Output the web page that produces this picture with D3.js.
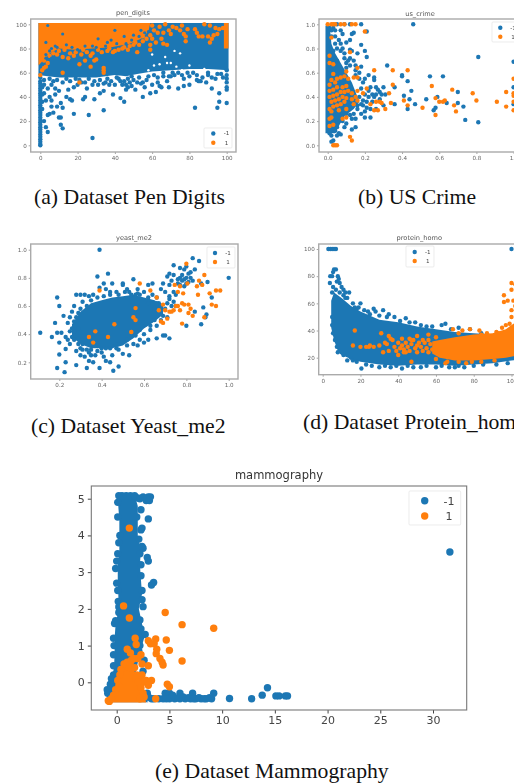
<!DOCTYPE html>
<html><head><meta charset="utf-8">
<script src="https://cdn.jsdelivr.net/npm/d3@7/dist/d3.min.js"></script>
<style>html,body{margin:0;padding:0;background:#fff;overflow:hidden}svg{display:block}</style>
</head><body><svg id="c" width="514" height="783"></svg>
<script>
// Solid overplotted masses are kept as outlines; separate dots are [x,y] pairs.
const classLabels=["-1","1"];
// ---- pen_digits
const penTitle="pen_digits";
const penXTicks=[0,20,40,60,80,100], penYTicks=[0,20,40,60,80,100];
const penBlueMass=[[-1,58,101],[4,57,101],[10,56,101],[20,56,101],[30,56,101],[40,58,101],[46,57,101],[52,59,101],[60,61,101],[70,62,101],[80,63,101],[90,63,101],[101,62,101]];
const penOrangeMass=[[-1,66,101],[2,71,101],[5,76,101],[10,80,101],[18,79,101],[28,80,101],[38,81,101],[48,84,101],[54,88,101],[58,94,101],[59,101,101]];
const penOrangeStrip=[[98.5,80,101],[101,80,101]];
const penBlue=[[0,0],[0,1],[0,3],[0,5],[0,7],[0,9],[0,11],[0,13],[0,15],[0,17],[0,19],[0,21],[0,23],[0,25],[0,27],[0,29],[0,31],[0,33],[0,35],[0,37],[0,39],[0,41],[0,43],[0,45],[0,47],[0,49],[0,51],[0,53],[0,56],[1,30],[1,36],[1,42],[1,48],[28,6],[83,31],[95,31],[100,35],[96,36],[96,43],[100,46],[100,48],[34,29],[26,25],[18,26],[10,23],[11,23],[4,11],[3,15],[2,20],[11,17],[12,14],[5,26],[7,27],[4,25],[6,32],[9,32],[11,35],[12,31],[6,37],[3,37],[5,40],[2,43],[8,42],[15,46],[14,40],[16,38],[17,37],[24,40],[23,38],[29,38],[32,43],[34,45],[39,42],[43,39],[45,36],[46,46],[51,46],[55,40],[59,43],[62,44],[64,49],[69,48],[74,47],[77,49],[80,50],[85,53],[86,53],[89,52],[92,47],[94,55],[98,56],[100,52],[100,55],[25,47],[28,50],[20,50],[18,48],[10,45],[8,47],[4,47],[6,50],[2,50],[40,50],[46,50],[48,52],[52,52],[57,54],[63,52],[68,53],[72,58],[76,58],[80,57],[37,50],[42,55],[56,48],[65,48],[60,50],[22,52],[31,50],[35,52],[45,53],[50,54],[66,57],[70,57],[84,58],[90,58],
[2,54],[5,55],[7,53],[9,54],[12,52],[14,55],[16,53],[19,55],[21,54],[24,52],[26,55],[29,53],[32,54],[34,51],[36,55],[38,53],[41,56],[43,53],[47,55],[49,57],[53,56],[55,52],[58,57],[61,58],[63,56],[66,60],[69,57],[71,60],[74,60],[77,55],[79,60],[82,60],[84,54],[87,56],[90,60],[92,56],[95,59],[97,59],[100,58],[100,62],[44,50],[49,49],[54,51],[47,48]];
const penOrange=[[21,52],[12,60],[0,58],[2,64],[1,62],[3,65],[34,60],[34,62],[34,64],[27,65],[21,67],[24,70],[29,70],[30,71],[12,73],[15,72],[18,74],[22,75],[27,74],[52,77],[59,79],[59,83],[66,84],[68,83],[78,86],[78,90],[84,93],[85,90],[87,90],[90,90],[91,85],[92,88],[93,91],[95,92],[79,96],[75,95],[73,97],[83,96],[77,92],[94,97],[96,96],[98,97],[65,88],[60,88],[55,90],[51,85],[48,82],[44,80],[40,78],[36,78],[70,92],[71,98],[66,93],[76,99],[91,99],[88,100],[62,85],
[2,70],[4,68],[5,74],[7,76],[9,75],[10,78],[13,79],[16,76],[19,77],[23,79],[25,77],[28,76],[31,79],[33,77],[37,80],[39,77],[42,79],[45,81],[47,79],[50,83],[53,83],[55,86],[57,88],[59,91],[61,95],[63,93],[60,99],[64,98],[67,100],[69,95]];
const penBlueHoles=[[4,99],[3,85],[5,78],[8,82],[6,72],[3,72],[3,75],[12,92],[20,79],[28,82],[31,88],[38,87],[45,90],[50,91],[54,95],[58,94],[46,84],[35,82],[6,80],[9,81],[14,83],[17,81],[24,82],[30,81],[36,85],[41,84],[49,87],[53,90],[56,93],[40,95]];
const penWhiteHoles=[[61,66],[64,67],[68,68],[70,68],[58,62],[76,62],[60,75],[75,76],[72,78],[67,73],[80,66],[88,63],[73,65]];
// ---- us_crime
const crimeTitle="us_crime";
const crimeXTicks=[0,0.2,0.4,0.6,0.8,1], crimeYTicks=[0,0.2,0.4,0.6,0.8,1];
const crimeBlueMass=[[.1,-.012,.04],[.16,-.012,.06],[.24,-.012,.09],[.3,-.012,.14],[.36,-.012,.17],[.44,-.012,.15],[.52,-.012,.13],[.6,-.012,.1],[.68,-.012,.07],[.76,-.012,.04],[.84,-.012,.02],[.92,-.012,.015],[.99,-.012,.01]];
const crimeBlue=[[.46,1],[.81,.73],[.81,.19],[.74,.21],[1,.69],[1,.48],[1,.34],[.32,.66],[.4,.58],[.4,.57],[.43,.53],[.55,.57],[.62,.57],[.45,.45],[.41,.41],[.44,.38],[.53,.38],[.47,.34],[.43,.3],[.57,.29],[.58,.31],[.59,.4],[.64,.35],[.7,.44],[.7,.35],[.73,.32],[.36,.34],[.36,.48],[.3,.48],[.31,.42],[.28,.44],[.27,.46],[.25,.54],[.22,.58],[.25,.56],[.19,.37],[.15,.15],[.13,.22],[.2,.23],[.18,.26],[.23,.23],[.13,.13],[.09,.15],[.1,.18],[.06,.1],[.05,.08],[.03,.04],[.02,.03],[.07,.09],[.18,1],[.12,1],[.09,1],[.05,1],[.21,.94],[.18,.83],[.13,.92],[.14,.93],[.2,.78],[.21,.73],[.16,.76],[.12,.87],[.07,.84],[.12,.79],[.13,.78],[.07,.95],[.03,.97],[.02,.9],[.08,.92],[.14,.7],[.18,.65],[.2,.55],[.23,.48],[.26,.42],[.28,.38],[.3,.33],[.24,.36],[.26,.3],[.29,.42],[.17,.6],[.15,.62],[.11,.7],[.09,.76],[.05,.8],[.06,.87],[.1,.68],[.12,.72],[.03,.12],[.05,.15],[.08,.2],[.12,.25],[.16,.3],[.19,.33],[.21,.31],[.22,.45],[.25,.4],[.02,.08],[.01,.1],
[.17,.4],[.18,.47],[.19,.52],[.17,.55],[.15,.58],[.2,.42],[.22,.4],[.21,.36],[.18,.34],[.16,.33],[.2,.28],[.23,.3],[.24,.42],[.26,.48],[.15,.66],[.12,.66],[.09,.72],[.1,.64],[.07,.78],[.05,.7],[.04,.9],[.04,.84],[.03,.78],[.02,.95],[.01,.97],[.08,.27],[.1,.26],[.06,.2],[.04,.12],[.02,.13],[.05,.19],[.14,.26],[.15,.22],[.04,.95],[.08,.8],[.1,.85]];
const crimeOrange=[[0,1],[.02,1],[.03,1],[.04,1],[.07,1],[.09,1],[.13,1],[.15,1],[.2,.94],[.02,.89],[.12,.77],[.16,.64],[.25,.62],[.35,.62],[.43,.62],[.56,.49],[.35,.5],[.33,.43],[.67,.46],[.78,.43],[.96,.44],[1,.55],[1,.43],[1,.41],[1,.36],[1,.29],[.96,.32],[.91,.36],[.8,.37],[.68,.33],[.69,.28],[.58,.25],[.51,.31],[.58,.39],[.6,.36],[.62,.36],[.63,.37],[.41,.37],[.43,.33],[.34,.35],[.31,.3],[.27,.29],[.25,.29],[.23,.34],[.26,.36],[.28,.36],[.29,.35],[.21,.47],[.19,.43],[.12,.07],[.13,.04],[.03,0],[.04,0],[.05,0],[.1,.23],[.08,.22],[.01,.16],[.03,.17],[.01,.22],[.02,.23],[.01,.3],[.03,.32],[.05,.33],[.07,.34],[.09,.36],[.02,.36],[.04,.37],[.06,.38],[.08,.4],[.1,.39],[.13,.38],[.01,.4],[.03,.41],[.05,.42],[.07,.44],[.09,.44],[.11,.45],[.13,.43],[.15,.4],[.01,.45],[.03,.46],[.05,.48],[.08,.48],[.1,.49],[.16,.45],[.01,.5],[.04,.52],[.02,.54],[.05,.55],[.07,.56],[.09,.57],[.11,.55],[.14,.56],[.16,.56],[.03,.59],[.03,.67],[.01,.68],[.01,.74],[.1,.61],[.16,.37],[.02,.28],[.06,.29],[.1,.3],[.14,.34]];
// ---- yeast_me2
const yeastTitle="yeast_me2";
const yeastXTicks=[0.2,0.4,0.6,0.8,1], yeastYTicks=[0.2,0.4,0.6,0.8,1];
const yeastBlueMass=[[.26,.38,.47],[.3,.33,.56],[.35,.3,.62],[.4,.3,.64],[.45,.3,.66],[.5,.32,.67],[.55,.37,.68],[.6,.44,.66],[.65,.49,.64],[.69,.54,.6]];
const yeastBlue=[[.39,1],[.11,.41],[.165,.38],[.18,.48],[.19,.66],[.2,.6],[.22,.53],[.19,.41],[.21,.41],[.2,.34],[.2,.255],[.23,.295],[.23,.2],[.19,.16],[.225,.13],[.28,.18],[.33,.16],[.39,.16],[.455,.14],[.48,.17],[.34,.21],[.36,.2],[.42,.21],[.44,.2],[.5,.26],[.53,.25],[.57,.32],[.6,.34],[.62,.36],[.66,.37],[.69,.39],[.72,.37],[.7,.39],[.38,.81],[.43,.83],[.39,.73],[.41,.76],[.45,.76],[.5,.75],[.5,.76],[.55,.79],[.57,.69],[.62,.75],[.64,.76],[.74,.89],[.79,.86],[.83,.94],[.86,.92],[.8,.88],[1,.8],[.84,.86],[.77,.87],[.71,.81],[.74,.82],[.72,.83],[.76,.79],[.78,.82],[.8,.8],[.82,.8],[.81,.83],[.8,.76],[.83,.78],[.77,.75],[.72,.75],[.69,.76],[.68,.72],[.7,.7],[.72,.67],[.74,.63],[.75,.6],[.72,.65],[.66,.66],[.67,.62],[.87,.47],[.8,.46],[.89,.52],[.895,.54],[.87,.76],[.9,.77],[.92,.66],[.88,.59],[.84,.56],[.3,.68],[.28,.68],[.32,.68],[.34,.67],[.27,.6],[.26,.56],[.25,.52],[.24,.48],[.25,.42],[.23,.38],[.25,.33],[.28,.28],[.3,.25],[.32,.24],[.35,.25],[.37,.25],[.4,.27],[.45,.25],[.47,.3],[.52,.32],[.55,.33],[.58,.36],[.6,.4],[.63,.43],[.66,.46],[.68,.5],[.6,.7],[.56,.68],[.52,.72],[.47,.7],[.42,.72],[.36,.68],[.62,.62],[.65,.58],[.31,.63],[.29,.55],[.27,.49],[.26,.38],[.29,.33],[.33,.29],[.38,.28],[.42,.3],[.7,.58],[.73,.6],[.68,.6],[.75,.68],[.78,.78],[.81,.77],[.79,.74],[.82,.84],[.77,.8],[.63,.46],[.67,.55],[.64,.68],[.71,.52],[.6,.48],[.53,.7],[.44,.68],[.57,.72],
[.28,.52],[.3,.58],[.33,.6],[.35,.64],[.38,.66],[.41,.67],[.44,.7],[.48,.68],[.51,.7],[.54,.68],[.58,.68],[.62,.66],[.66,.62],[.29,.44],[.27,.42],[.29,.37],[.31,.33],[.31,.29],[.35,.29],[.4,.3],[.44,.3],[.48,.33],[.52,.36],[.56,.39],[.58,.43],[.61,.47],[.65,.5],[.69,.53],[.71,.62],[.74,.7],[.76,.76],[.79,.79],[.73,.78],[.26,.44],[.24,.36],[.27,.36],[.3,.3],[.36,.33],[.34,.27],[.41,.24],[.48,.29]];
const yeastOrange=[[.39,.71],[.58,.76],[.63,.71],[.66,.66],[.745,.75],[.77,.74],[.8,.9],[.86,.78],[.885,.82],[.85,.74],[.875,.75],[.855,.68],[.805,.76],[.785,.69],[.76,.7],[.91,.69],[.94,.71],[.96,.71],[.92,.61],[.94,.6],[.885,.52],[.82,.58],[.81,.55],[.83,.53],[.78,.62],[.79,.61],[.81,.61],[.76,.6],[.77,.57],[.78,.475],[.56,.585],[.55,.52],[.56,.5],[.46,.47],[.54,.415],[.37,.42],[.34,.38],[.36,.34],[.43,.38],[.67,.57],[.69,.61],[.7,.57],[.72,.56],[.73,.56],[.74,.57],[.71,.51],[.68,.49],[.69,.48],[.75,.6]];
// ---- protein_homo
const proteinTitle="protein_homo";
const proteinXTicks=[0,20,40,60,80,100], proteinYTicks=[20,40,60,80,100];
const proteinBlueMass=[[4.5,42,62],[6,33,68],[8,25,66],[10,22,64],[15,19,58],[20,17,54],[30,15,48],[40,14,46],[50,15,43],[60,15,41],[70,14,39],[80,15,38],[90,16,37],[100,18,38],[107,19,38]];
const proteinOrangeMass=[[58,23,32],[62,20,33],[70,18,35],[80,18,37],[90,19,38],[97,20,41],[101,21,45],[107,22,48]];
const proteinBlue=[[3,100],[4,100],[5,100],[6,100],[7,100],[100,100],[103,95],[3.8,75],[4,80],[5,80],[5.5,83],[6,85],[7,85],[8,80],[8.5,78],[9,75],[7.5,76],[10,72],[11,70],[12,68],[14,68],[20,60],[27,56],[28,54],[32,55],[44,49],[49,46],[65,45],[63,44],[20.5,12],[42,12],[13,18],[15,20],[10,24],[30,13],[36,13],[52,13],[60,13],[70,13],[75,13],[18,56],[25,52],[35,52],[38,50],[55,43],
[5,68],[5.5,72],[7,70],[9,68],[11,66],[13,64],[16,60],[19,57],[22,55],[24,54],[30,51],[34,50],[41,47],[46,46],[52,44],[58,43],[68,41],[72,42],[78,41],[84,38],[5,50],[5,44],[5.5,38],[6.5,33],[7.5,28],[8,24],[11,22],[16,18],[18,17],[23,15],[26,14],[33,14],[39,14],[45,14],[48,13],[55,14],[63,14],[67,13],[72,14],[80,14],[85,15],[92,15],[98,16],[12,64],[17,57]];
const proteinOrange=[[17,40],[16,29],[20,28],[23,28],[25,29],[24.5,28],[27,28],[30,29],[31,38],[33,31],[32,24],[35,25],[34,30],[35,36],[36,34],[37,33],[47,17],[50,36],[40,22],[43,24],[56,37],[69,41],[78,41],[83,40],[87,38],[92,39],[93,38],[95,42],[97,44],[99,45],[100,50],[100,55],[102,58],[101,62],[103,63],[105,62],[96,66],[96,61],[98,62],[100,70],[100,75],[102,74],[103,72],[84,17],[65,16],[79,17],[91,18],[42,34],[47,33],[60,35],[72,38],[74,40],
[38,28],[39,25],[40,31],[41,27],[42,29],[43,26],[44,31],[45,28],[46,25],[47,30],[48,33],[49,27],[50,24],[51,31],[52,28],[53,25],[54,31],[55,27],[56,24],[57,30],[58,26],[56,33],[53,33],[46,34],[50,29],[44,24],[60,19],[66,17],[72,17],[76,16],[84,37],[88,36]];
// ---- mammography
const mammoTitle="mammography";
const mammoXTicks=[0,5,10,15,20,25,30], mammoYTicks=[0,1,2,3,4,5];
const mammoBlueMass=[[5.1,.1,1.7],[4.8,.15,2],[4.4,.25,2],[4,.25,2],[3.6,.25,2.3],[3.2,.1,2.2],[2.8,.1,2.3],[2.4,.15,2.4],[2,.2,2.1],[1.6,-.1,2.4],[1.2,-.2,2.6],[.8,-.2,2.2],[.4,-.25,1.9],[0,-.55,1.6],[-.3,-.9,2.1],[-.54,-.9,3]];
const mammoOrangeMass=[[.6,1,1.65],[.45,.55,1.6],[.3,.2,1.7],[0,.05,1.9],[-.2,-.1,2.3],[-.4,-.5,2.6],[-.55,-.9,2.8]];
const mammoBlue=[[3,5.05],[3.2,5.05],[2.8,4.95],[3.1,4.95],[2.5,5.05],[2,5.02],[3,4.45],[2.4,4.2],[2.5,3.65],[3,3.3],[2.9,3.4],[3.5,2.72],[3.3,2.65],[2.5,2.06],[2.7,1.3],[-.1,3.1],[0,2.7],[-.1,1.68],[-.3,1.2],[2.6,.6],[2.5,.3],[3,-.4],[3.5,-.45],[4,-.45],[4.4,-.45],[4.6,-.3],[5,-.3],[5,-.45],[5.5,-.45],[6,-.45],[6,-.3],[6.5,-.45],[7,-.45],[7.2,-.3],[7.5,-.45],[8,-.45],[8.5,-.45],[9,-.45],[9.2,-.3],[10.7,-.44],[12.8,-.45],[13.8,-.35],[14.3,-.15],[15.1,-.37],[15.4,-.37],[16,-.37],[16.2,-.37],[31.6,3.55],[-.9,-.2],[2.2,-.1],
[.2,5.08],[.5,5.08],[.9,5.08],[1.3,5.08],[1.7,5.08],[2.2,5.0],[2.3,4.7],[.1,4.9],[.1,4.5],[1.9,4.5],[2.3,4.15],[.3,4],[.2,3.8],[2.1,3.9],[2.4,3.7],[2.2,3.5],[.1,3.5],[2.3,3.2],[0,3.3],[2.3,2.9],[.1,2.5],[.15,2.2],[2.4,2.5],[2.4,2.25],[.2,2.05],[.2,1.9],[2.2,1.7],[-.2,1.6],[2.3,1.45],[-.25,1],[2.2,1],[-.3,.75],[2.1,.85],[-.3,.45],[-.3,.2],[-.5,.1],[-.6,-.05],[-.85,-.3],[3.3,-.45],[4.7,-.45],[5.3,-.35],[5.8,-.42],[6.3,-.4],[6.8,-.42],[7.3,-.45],[7.8,-.42],[8.3,-.45],[8.8,-.42],[2.7,-.42],[2.9,-.3]];
const mammoOrange=[[1.2,4.2],[.65,2.08],[1.2,1.75],[4.6,1.9],[6.2,1.57],[9.2,1.47],[1.75,1.2],[1.85,1.03],[3,1.13],[3.2,1.05],[3.7,1.18],[3.55,1.05],[4.7,1.15],[3.8,.9],[3.75,.78],[5,.87],[1,.9],[1.3,.8],[4.1,.65],[4.3,.55],[4.4,.47],[6.2,.58],[2.3,.75],[3,.45],[2.4,.5],[2,.65],[2.2,.15],[2.4,.2],[2.8,.05],[3.3,.05],[3,-.08],[4.8,-.05],[5,-.12],[3.7,-.45],[-.8,-.5],[-.7,-.52],[2.5,0],[1.9,.2],
[.3,.2],[.4,.35],[.1,.05],[.2,-.1],[-.1,-.2],[-.3,-.35],[.7,.5],[1,.55],[1.4,.6],[1.6,.65],[1.2,.4],[1.7,.4],[1.8,.1],[2,0],[2.3,-.15],[2.5,-.3],[2.6,-.4],[2.2,-.45],[-.5,-.45]];
// ---- captions
const captions=[["(a) Dataset Pen Digits",34,204],["(b) US Crime",358,204],["(c) Dataset Yeast_me2",31,433],["(d) Dataset Protein_homo",303,429],["(e) Dataset Mammography",155,778]];

const BLUE="#1f77b4",ORANGE="#ff7f0e";
const svg=d3.select("#c");
const defs=svg.append("defs");
defs.append("filter").attr("id","b1").attr("x","-5%").attr("y","-5%").attr("width","110%").attr("height","110%").append("feGaussianBlur").attr("stdDeviation",.45);
defs.append("filter").attr("id","b2").attr("x","-5%").attr("y","-5%").attr("width","110%").attr("height","110%").append("feGaussianBlur").attr("stdDeviation",.3);

function panel(o){
  const g=svg.append("g").attr("filter",o.big?"url(#b2)":"url(#b1)");
  const x=d3.scaleLinear().domain(o.xRef).range(o.xPx);
  const y=d3.scaleLinear().domain(o.yRef).range(o.yPx);
  const cid="clip"+o.title;
  defs.append("clipPath").attr("id",cid).append("rect").attr("x",o.box[0]).attr("y",o.box[1]).attr("width",o.box[2]-o.box[0]).attr("height",o.box[3]-o.box[1]);
  g.append("rect").attr("x",o.box[0]).attr("y",o.box[1]).attr("width",o.box[2]-o.box[0]).attr("height",o.box[3]-o.box[1]).attr("fill","#fff");
  const p=g.append("g").attr("clip-path",`url(#${cid})`);
  const byX=d3.area().x(d=>x(d[0])).y0(d=>y(d[1])).y1(d=>y(d[2]));
  const byY=d3.area().y(d=>y(d[0])).x0(d=>x(d[1])).x1(d=>x(d[2]));
  const dots=(data,col,r)=>p.append("g").selectAll("circle").data(data).join("circle").attr("cx",d=>x(d[0])).attr("cy",d=>y(d[1])).attr("r",r).attr("fill",col);
  const r=o.r;
  (o.layers).forEach(l=>{
    if(l.massX)p.append("path").attr("d",byX(l.massX)).attr("fill",l.c);
    else if(l.massY)p.append("path").attr("d",byY(l.massY)).attr("fill",l.c);
    else dots(l.pts,l.c,l.r||r);
  });
  const tc=o.big?"#444":"#666", fs=o.big?11:5.6, ts=o.big?1:.6;
  const ax=g.append("g").attr("transform",`translate(0,${o.box[3]})`).call(d3.axisBottom(x).tickValues(o.xTicks).tickSize(o.big?3.5:2).tickPadding(o.big?3:2).tickFormat(o.xFmt));
  const ay=g.append("g").attr("transform",`translate(${o.box[0]},0)`).call(d3.axisLeft(y).tickValues(o.yTicks).tickSize(o.big?3.5:2).tickPadding(o.big?3:2).tickFormat(o.yFmt));
  [ax,ay].forEach(a=>{a.select(".domain").remove();a.selectAll("line").attr("stroke",tc).attr("stroke-width",ts);a.selectAll("text").attr("fill",tc).attr("font-size",fs).attr("font-family","DejaVu Sans");});
  g.append("rect").attr("x",o.box[0]).attr("y",o.box[1]).attr("width",o.box[2]-o.box[0]).attr("height",o.box[3]-o.box[1]).attr("fill","none").attr("stroke",o.big?"#777":"#aaa").attr("stroke-width",o.big?1.1:1.4);
  g.append("text").text(o.title).attr("x",o.titleX).attr("y",o.titleY).attr("text-anchor","middle").attr("fill",o.big?"#333":"#555").attr("font-size",o.big?11.5:6.6).attr("font-family","DejaVu Sans");
  const L=o.legend;
  g.append("rect").attr("x",L.x0).attr("y",L.y0).attr("width",L.x1-L.x0).attr("height",L.y1-L.y0).attr("rx",1).attr("fill","#fff").attr("stroke","#e4e4e4").attr("stroke-width",.7);
  classLabels.forEach((t,i)=>{
    g.append("circle").attr("cx",L.mx).attr("cy",L.ys[i]).attr("r",r).attr("fill",i?ORANGE:BLUE);
    g.append("text").text(t).attr("x",L.tx).attr("y",L.ys[i]).attr("dy","0.35em").attr("text-anchor","middle").attr("fill","#444").attr("font-size",o.big?11:5.6).attr("font-family","DejaVu Sans");
  });
}
const intF=d3.format("d"), f1=d3.format(".1f");
panel({title:penTitle,box:[30.7,19,236,152],xRef:[0,100],xPx:[40.3,226.7],yRef:[0,100],yPx:[145.3,24.3],xTicks:penXTicks,yTicks:penYTicks,xFmt:intF,yFmt:intF,r:2.2,titleX:133,titleY:15,
 legend:{x0:204,x1:232,y0:128,y1:148,mx:213.3,tx:226.5,ys:[133.5,142.7]},
 layers:[{massX:penBlueMass,c:BLUE},{pts:penBlue,c:BLUE},{pts:penWhiteHoles,c:"#fff",r:1.2},{massX:penOrangeMass,c:ORANGE},{massX:penOrangeStrip,c:ORANGE},{pts:penOrange,c:ORANGE},{pts:penBlueHoles,c:BLUE,r:1.6}]});
panel({title:crimeTitle,box:[319,19,530,152],xRef:[0,1],xPx:[327.7,513.6],yRef:[0,1],yPx:[145.3,24.3],xTicks:crimeXTicks,yTicks:crimeYTicks,xFmt:f1,yFmt:f1,r:2.2,titleX:420,titleY:15.5,
 legend:{x0:492,x1:530,y0:22,y1:42,mx:500.3,tx:513,ys:[27.7,36.7]},
 layers:[{massY:crimeBlueMass,c:BLUE},{pts:crimeBlue,c:BLUE},{pts:crimeOrange,c:ORANGE}]});
panel({title:yeastTitle,box:[30.7,244,238,379],xRef:[.2,1],xPx:[59.3,228.7],yRef:[.2,1],yPx:[362.3,249.7],xTicks:yeastXTicks,yTicks:yeastYTicks,xFmt:f1,yFmt:f1,r:2.2,titleX:134,titleY:240,
 legend:{x0:207,x1:235,y0:247,y1:268,mx:215,tx:228,ys:[253,262]},
 layers:[{massX:yeastBlueMass,c:BLUE},{pts:yeastBlue,c:BLUE},{pts:yeastOrange,c:ORANGE}]});
panel({title:proteinTitle,box:[318.7,244,530,374.7],xRef:[0,100],xPx:[322.7,511.5],yRef:[20,100],yPx:[357.7,249],xTicks:proteinXTicks,yTicks:proteinYTicks,xFmt:intF,yFmt:intF,r:2.2,titleX:419.3,titleY:240,
 legend:{x0:406,x1:434,y0:246,y1:267,mx:414.7,tx:427.7,ys:[252,261]},
 layers:[{massX:proteinBlueMass,c:BLUE},{pts:proteinBlue,c:BLUE},{massX:proteinOrangeMass,c:ORANGE},{pts:proteinOrange,c:ORANGE}]});
panel({big:true,title:mammoTitle,box:[91.3,486,466.7,710],xRef:[0,30],xPx:[116.7,433],yRef:[0,5],yPx:[682.3,498.7],xTicks:mammoXTicks,yTicks:mammoYTicks,xFmt:intF,yFmt:intF,r:3.7,titleX:279,titleY:479,
 legend:{x0:409,x1:460.7,y0:491,y1:525,mx:424.7,tx:449,ys:[500.7,516]},
 layers:[{massY:mammoBlueMass,c:BLUE},{pts:mammoBlue,c:BLUE},{massY:mammoOrangeMass,c:ORANGE},{pts:mammoOrange,c:ORANGE}]});
svg.append("g").selectAll("text").data(captions).join("text").text(d=>d[0]).attr("x",d=>d[1]).attr("y",d=>d[2]).attr("font-family","Liberation Serif").attr("font-size",21.7).attr("fill","#111");
</script></body></html>
